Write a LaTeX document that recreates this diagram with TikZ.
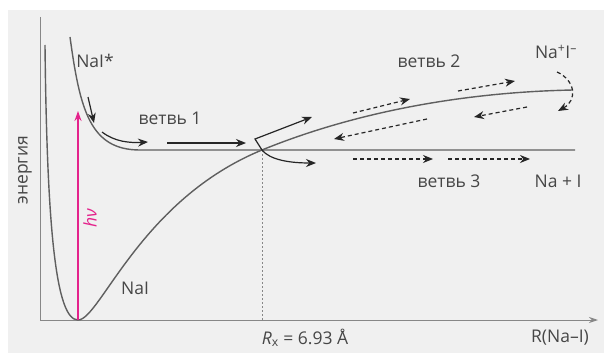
\documentclass[tikz,border=0pt]{standalone}
\usepackage{fontspec}
\setmainfont{Open Sans}
\usetikzlibrary{arrows.meta}
\definecolor{bggray}{RGB}{240,240,240}
\definecolor{curvegray}{RGB}{95,95,95}
\definecolor{axisgray}{RGB}{135,135,135}
\definecolor{hvpink}{RGB}{228,35,140}
\definecolor{txtgray}{RGB}{70,70,70}

\begin{document}
\begin{tikzpicture}[x=1pt,y=-1pt,
  curve/.style={curvegray, line width=1.4pt},
  axis/.style={axisgray, line width=1pt},
  flow/.style={-{Stealth[length=10pt,width=8pt]}, line width=1.2pt, black!85},
  flowd/.style={flow, dash pattern=on 4pt off 3pt},
  lbl/.style={font=\fontsize{17.5}{20}\selectfont, text=txtgray, inner sep=0pt}
]
\useasboundingbox (0,0) rectangle (604,353);
\fill[bggray] (8,10) rectangle (604,353);

% axes
\coordinate (origin) at (40,320);
\coordinate (ytop) at (40,17);
\coordinate (xend) at (598,320);
\draw[axis] (ytop) -- (origin);
\draw[axis, -{Stealth[length=9pt,width=6pt]}] (origin) -- (xend);

% potential curves
\coordinate (naimin) at (78,320);
\coordinate (cross) at (262,150);
\draw[curve] (45,45) .. controls (47,230) and (56,320) .. (naimin)
  .. controls (100,320) and (140,200) .. (cross)
  .. controls (360,110) and (470,92) .. (573,90);
\draw[curve] (70,37) .. controls (80,110) and (90,150) .. (140,150) -- (575,150);

% excitation
\coordinate (hvtip) at (78,111);
\draw[hvpink, line width=1.5pt, -{Stealth[length=10pt,width=7pt]}] (naimin) -- (hvtip);
\node[lbl, text=hvpink, rotate=90] (hv) at (90,218) {\itshape hν};

% crossing point
\coordinate (rxfoot) at (262,320);
\draw[axisgray, line width=0.7pt, dash pattern=on 2pt off 2pt] (cross) -- (rxfoot);

% branch 1
\coordinate (a1s) at (88,97);   \coordinate (a1e) at (94,123);
\coordinate (a2s) at (102,132); \coordinate (a2e) at (148,142);
\coordinate (a3s) at (167,143); \coordinate (a3e) at (246,143);
\draw[flow] (a1s) -- (a1e);
\draw[flow] (a2s) .. controls (115,142) and (130,143) .. (a2e);
\draw[flow] (a3s) -- (a3e);

% split at R_x
\coordinate (kink) at (255,139);
\coordinate (b2tip) at (312,117);
\coordinate (b3tip) at (316,163);
\draw[flow] (cross) -- (kink) -- (b2tip);
\draw[flow] (cross) .. controls (270,160) and (290,163) .. (b3tip);

% branch 2
\coordinate (c1s) at (353,113); \coordinate (c1e) at (410,99);
\coordinate (c2s) at (458,91);  \coordinate (c2e) at (515,81);
\coordinate (c3s) at (527,107); \coordinate (c3e) at (474,117);
\coordinate (c4s) at (427,119); \coordinate (c4e) at (334,139);
\coordinate (turns) at (557,72); \coordinate (turne) at (558,111);
\draw[flowd] (c1s) -- (c1e);
\draw[flowd] (c2s) -- (c2e);
\draw[flowd] (c3s) -- (c3e);
\draw[flowd] (c4s) -- (c4e);
\draw[flowd] (turns) .. controls (575,80) and (578,100) .. (turne);

% branch 3
\coordinate (d1s) at (353,159); \coordinate (d1e) at (433,159);
\coordinate (d2s) at (448,159); \coordinate (d2e) at (530,159);
\draw[flowd] (d1s) -- (d1e);
\draw[flowd] (d2s) -- (d2e);

% labels
\node[lbl, rotate=90] (energy) at (25,170) {энергия};
\node[lbl] (naistar) at (95,61) {NaI*};
\node[lbl] (nai) at (135,288) {NaI};
\node[lbl] (br1) at (170,118) {ветвь 1};
\node[lbl] (br2) at (429,61) {ветвь 2};
\node[lbl] (br3) at (449,181) {ветвь 3};
\node[lbl] (ionic) at (556,52) {Na\textsuperscript{+}I\textsuperscript{--}};
\node[lbl] (covalent) at (558,181) {Na + I};
\node[lbl] (rx) at (305,338) {\itshape R\textsubscript{\upshape x}\upshape{} = 6.93 Å};
\node[lbl] (raxis) at (560,338) {R(Na--I)};
\end{tikzpicture}
\end{document}
